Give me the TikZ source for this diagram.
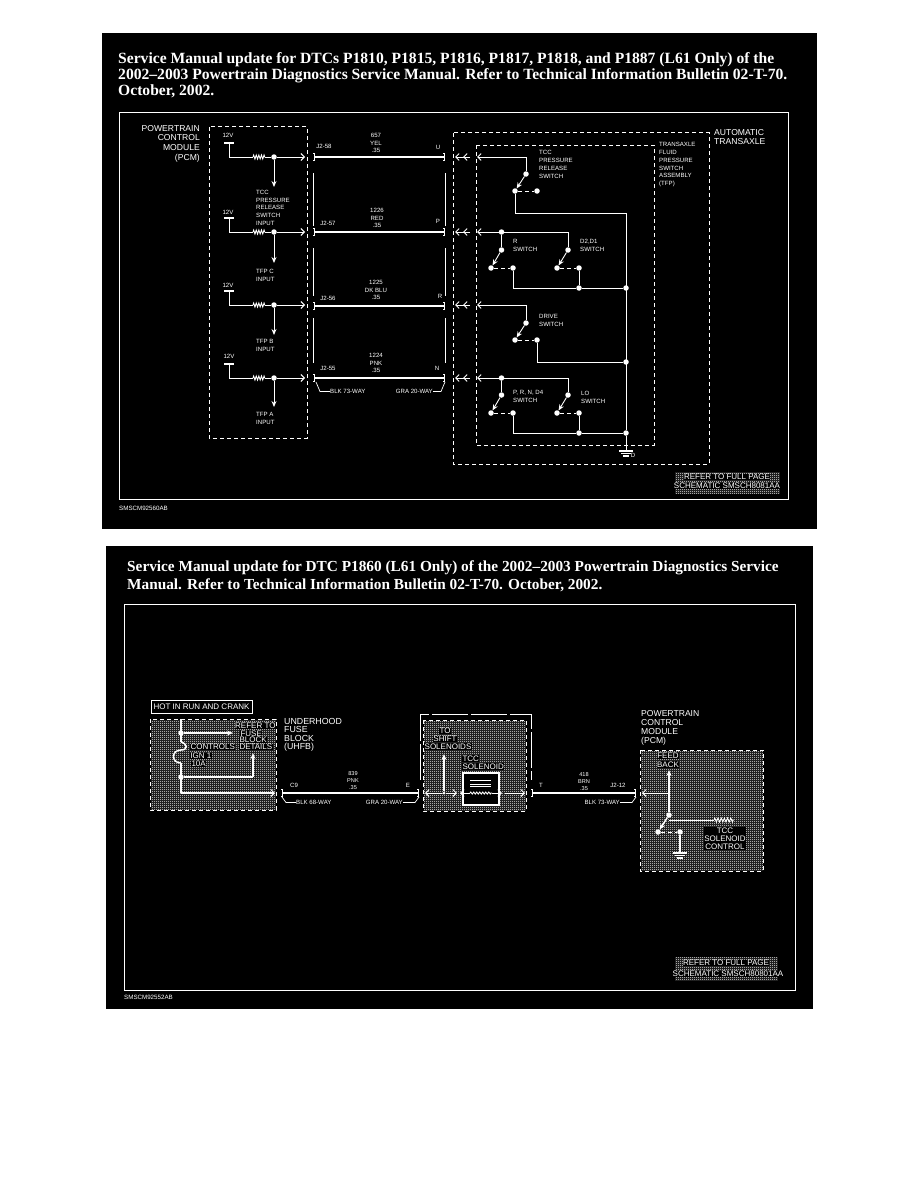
\documentclass[tikz,border=0pt]{standalone}
\usepackage{fontspec}
\setmainfont{Liberation Serif}
\setsansfont{Liberation Sans}
\usepackage{tikz}
\usetikzlibrary{arrows.meta,patterns,decorations.pathmorphing}
\pgfdeclarepatternformonly{screen}{\pgfpointorigin}{\pgfqpoint{2pt}{2pt}}{\pgfqpoint{2pt}{2pt}}{
  \pgfpathrectangle{\pgfpointorigin}{\pgfqpoint{0.95pt}{0.95pt}}
  \pgfpathrectangle{\pgfqpoint{1pt}{1pt}}{\pgfqpoint{0.95pt}{0.95pt}}
  \pgfusepath{fill}}
\tikzset{panel/.style={fill=black,draw=none},
	frame/.style={draw=white,line width=1pt},
	title/.style={text=white,anchor=north west,align=left,inner sep=0pt,
		font=\fontsize{15.6}{16.2}\selectfont\bfseries},
	sm/.style={text=white,inner sep=0pt,align=left,font=\sffamily\fontsize{6.1}{7.7}\selectfont},
	big/.style={text=white,inner sep=0pt,align=left,font=\sffamily\fontsize{8.6}{9.6}\selectfont},
	blk/.style={big,fill=black,inner sep=0.3pt,font=\sffamily\fontsize{8}{8}\selectfont},
	dashbox/.style={draw=white,line width=1pt,dash pattern=on 4pt off 3pt},
	hatch/.style={pattern=screen,pattern color=white},
	wire/.style={draw=white,line width=0.9pt},
	hwire/.style={draw=white,line width=1.5pt},
	fat/.style={draw=white,line width=2.8pt,{Tee Barb[width=8pt,length=2pt,line width=1pt]}-{Tee Barb[width=8pt,length=2pt,line width=1pt]}},
	barb/.style={-{Straight Barb[length=3.5pt,width=7pt,line width=0.9pt]}},
	stlth/.style={-{Stealth[length=6pt,width=5pt]}},
	res/.style={wire,decorate,decoration={zigzag,segment length=2.6pt,amplitude=2pt}},
	jn/.style={circle,fill=white,draw=none,inner sep=0pt,minimum size=5.5pt},
	bar/.style={rectangle,fill=white,draw=none,inner sep=0pt,minimum width=10pt,minimum height=1.8pt},
	swd/.style={wire,dash pattern=on 4pt off 3pt},
	lead/.style={wire,line width=0.7pt}}
\begin{document}
\begin{tikzpicture}[x=1pt,y=-1pt]
\useasboundingbox (0,0) rectangle (918,1188);
\fill [panel] (102,33) rectangle (817,529);
\fill [panel] (106,546) rectangle (813,1009);
\draw [frame] (119,113) rectangle (788,499);
\draw [frame] (124,604) rectangle (795,990);
\node [title] (t1) at (118,52) {Service Manual update for DTCs P1810, P1815, P1816, P1817, P1818, and P1887 (L61 Only) of the\\2002--2003 Powertrain Diagnostics Service Manual. Refer to Technical Information Bulletin 02-T-70.\\October, 2002.};
\node [title,font=\fontsize{15.3}{17.6}\selectfont\bfseries] (t2) at (127,561) {Service Manual update for DTC P1860 (L61 Only) of the 2002--2003 Powertrain Diagnostics Service\\Manual. Refer to Technical Information Bulletin 02-T-70. October, 2002.};
\node [sm,anchor=west,font=\sffamily\fontsize{6.2}{7}\selectfont] (n1) at (119,508) {SMSCM92560AB};
\node [sm,anchor=west,font=\sffamily\fontsize{6.2}{7}\selectfont] (n2) at (124,997) {SMSCM92552AB};

\draw [dashbox] (209,127) rectangle (307,438);
\draw [dashbox] (453,133) rectangle (709,464);
\draw [dashbox] (476,145) rectangle (654,445);
\node [big,anchor=north east,align=right] (pcm) at (200,125) {POWERTRAIN\\CONTROL\\MODULE\\(PCM)};
\node [big,anchor=north west] (atx) at (714,129) {AUTOMATIC\\TRANSAXLE};
\node [sm,anchor=north west] (tfp) at (659,142.5) {TRANSAXLE\\FLUID\\PRESSURE\\SWITCH\\ASSEMBLY\\(TFP)};

\node [sm] (v1) at (228,135) {12V};
\node [bar] (p1) at (229,143) {};
\coordinate (ra1) at (253,157);
\coordinate (rb1) at (265,157);
\node [jn] (j1) at (274,157) {};
\coordinate (c1) at (305,157);
\coordinate (d1) at (274,187);
\draw [wire] (p1.center) |- (ra1);
\draw [res] (ra1) -- (rb1);
\draw [wire] (rb1) -- (j1);
\draw [wire,barb] (j1) -- (c1);
\draw [wire,stlth] (j1) -- (d1);
\node [sm,anchor=north west] (i1) at (256,190) {TCC\\PRESSURE\\RELEASE\\SWITCH\\INPUT};

\node [sm] (v2) at (228,212) {12V};
\node [bar] (p2) at (229,218) {};
\coordinate (ra2) at (253,232);
\coordinate (rb2) at (265,232);
\node [jn] (j2) at (274,232) {};
\coordinate (c2) at (305,232);
\coordinate (d2) at (274,263);
\draw [wire] (p2.center) |- (ra2);
\draw [res] (ra2) -- (rb2);
\draw [wire] (rb2) -- (j2);
\draw [wire,barb] (j2) -- (c2);
\draw [wire,stlth] (j2) -- (d2);
\node [sm,anchor=north west] (i2) at (256,269) {TFP C\\INPUT};

\node [sm] (v3) at (228,285) {12V};
\node [bar] (p3) at (229,291) {};
\coordinate (ra3) at (253,305);
\coordinate (rb3) at (265,305);
\node [jn] (j3) at (274,305) {};
\coordinate (c3) at (305,305);
\coordinate (d3) at (274,335);
\draw [wire] (p3.center) |- (ra3);
\draw [res] (ra3) -- (rb3);
\draw [wire] (rb3) -- (j3);
\draw [wire,barb] (j3) -- (c3);
\draw [wire,stlth] (j3) -- (d3);
\node [sm,anchor=north west] (i3) at (256,339) {TFP B\\INPUT};

\node [sm] (v4) at (229,356) {12V};
\node [bar] (p4) at (229,364) {};
\coordinate (ra4) at (253,378);
\coordinate (rb4) at (265,378);
\node [jn] (j4) at (274,378) {};
\coordinate (c4) at (305,378);
\coordinate (d4) at (274,407);
\draw [wire] (p4.center) |- (ra4);
\draw [res] (ra4) -- (rb4);
\draw [wire] (rb4) -- (j4);
\draw [wire,barb] (j4) -- (c4);
\draw [wire,stlth] (j4) -- (d4);
\node [sm,anchor=north west] (i4) at (256,412) {TFP A\\INPUT};

\coordinate (l1) at (313,157);
\coordinate (r1) at (445,157);
\coordinate (l2) at (313,232);
\coordinate (r2) at (445,232);
\coordinate (l3) at (313,306);
\coordinate (r3) at (445,306);
\coordinate (l4) at (313,378);
\coordinate (r4) at (445,378);
\draw [fat] (l1) -- (r1);
\draw [fat] (l2) -- (r2);
\draw [fat] (l3) -- (r3);
\draw [fat] (l4) -- (r4);
\draw [wire] (313,173) -- (313,226);
\draw [wire] (313,248) -- (313,296);
\draw [wire] (313,318) -- (313,363);
\draw [wire] (445,173) -- (445,226);
\draw [wire] (445,248) -- (445,296);
\draw [wire] (445,318) -- (445,363);
\node [sm,align=center] (w1) at (376,143) {657\\YEL\\.35};
\node [sm,align=center] (w2) at (377,218) {1226\\RED\\.35};
\node [sm,align=center] (w3) at (376,290) {1225\\DK BLU\\.35};
\node [sm,align=center] (w4) at (376,363) {1224\\PNK\\.35};
\node [sm] (e1) at (324,146) {J2-58};
\node [sm] (e2) at (328,223) {J2-57};
\node [sm] (e3) at (328,298) {J2-56};
\node [sm] (e4) at (328,368) {J2-55};
\node [sm] (f1) at (438,147) {U};
\node [sm] (f2) at (438,221) {P};
\node [sm] (f3) at (440,296) {R};
\node [sm] (f4) at (437,368) {N};
\node [sm,anchor=west] (k1) at (330,391.5) {BLK 73-WAY};
\node [sm,anchor=east] (k2) at (433,391.5) {GRA 20-WAY};
\draw [lead] (k1.west) -- (320,391.5) -- (316,382);
\draw [lead] (k2.east) -- (441,391.5) -- (445,382);

\coordinate (a1) at (455,157);
\coordinate (a2) at (463,157);
\coordinate (a3) at (455,232);
\coordinate (a4) at (463,232);
\coordinate (a5) at (455,305);
\coordinate (a6) at (463,305);
\coordinate (a7) at (455,378);
\coordinate (a8) at (463,378);
\coordinate (b1) at (470,157);
\coordinate (b2) at (470,232);
\coordinate (b3) at (470,305);
\coordinate (b4) at (470,378);
\draw [wire,barb] (b1) -- (a1);
\draw [wire,barb] (b2) -- (a3);
\draw [wire,barb] (b3) -- (a5);
\draw [wire,barb] (b4) -- (a7);
\draw [wire,barb] (b1) -- (a2);
\draw [wire,barb] (b2) -- (a4);
\draw [wire,barb] (b3) -- (a6);
\draw [wire,barb] (b4) -- (a8);

\coordinate (x1) at (477,157);
\coordinate (x2) at (477,232);
\coordinate (x3) at (477,305);
\coordinate (x4) at (477,378);
\coordinate (y1) at (526,157);
\coordinate (y3) at (526,305);
\node [jn] (q1) at (526,174) {};
\node [jn] (q2) at (515,191) {};
\node [jn] (q3) at (537,191) {};
\node [jn] (h1) at (501.5,232) {};
\coordinate (h2) at (568,232);
\node [jn] (m1) at (501.5,250) {};
\node [jn] (m2) at (491,268) {};
\node [jn] (m3) at (513,268) {};
\node [jn] (m4) at (568,250) {};
\node [jn] (m5) at (557,268) {};
\node [jn] (m6) at (579,268) {};
\node [jn] (m7) at (579,288) {};
\node [jn] (m8) at (626,288) {};
\node [jn] (o1) at (526,323) {};
\node [jn] (o2) at (515,340) {};
\node [jn] (o3) at (537,340) {};
\node [jn] (o4) at (626,362) {};
\node [jn] (h3) at (501.5,378) {};
\coordinate (h4) at (568,378);
\node [jn] (u1) at (501.5,395) {};
\node [jn] (u2) at (491,413) {};
\node [jn] (u3) at (513,413) {};
\node [jn] (u4) at (568,395) {};
\node [jn] (u5) at (557,413) {};
\node [jn] (u6) at (579,413) {};
\node [jn] (u7) at (579,433) {};
\node [jn] (u8) at (626,433) {};
\coordinate (z1) at (626,213);

\draw [wire,barb] (y1) -- (x1);
\draw [wire,barb] (y3) -- (x3);
\draw [wire,barb] (h2) -- (x2);
\draw [wire,barb] (h4) -- (x4);
\draw [wire] (y1) -- (q1);
\draw [wire,stlth] (q1) -- (q2);
\draw [swd] (q2) -- (q3);
\draw [wire] (q2) |- (z1);
\draw [wire] (z1) -- (u8);
\draw [wire] (h1) -- (m1);
\draw [wire,stlth] (m1) -- (m2);
\draw [swd] (m2) -- (m3);
\draw [wire] (m3) |- (m7);
\draw [wire] (m7) -- (m8);
\draw [wire] (h2) -- (m4);
\draw [wire,stlth] (m4) -- (m5);
\draw [swd] (m5) -- (m6);
\draw [wire] (m6) -- (m7);
\draw [wire] (y3) -- (o1);
\draw [wire,stlth] (o1) -- (o2);
\draw [swd] (o2) -- (o3);
\draw [wire] (o3) |- (o4);
\draw [wire] (h3) -- (u1);
\draw [wire,stlth] (u1) -- (u2);
\draw [swd] (u2) -- (u3);
\draw [wire] (u3) |- (u7);
\draw [wire] (u7) -- (u8);
\draw [wire] (h4) -- (u4);
\draw [wire,stlth] (u4) -- (u5);
\draw [swd] (u5) -- (u6);
\draw [wire] (u6) -- (u7);
\node [bar,minimum width=14pt] (g1) at (626,451) {};
\node [bar,minimum width=10pt] (g2) at (626,453.5) {};
\node [bar,minimum width=6pt] (g3) at (626,456) {};
\draw [wire] (u8) -- (g1);
\node [sm] (g4) at (633,455) {D};
\node [sm,anchor=north west] (s1) at (539,150.5) {TCC\\PRESSURE\\RELEASE\\SWITCH};
\node [sm,anchor=north west] (s2) at (513,239) {R\\SWITCH};
\node [sm,anchor=north west] (s3) at (580,239) {D2,D1\\SWITCH};
\node [sm,anchor=north west] (s4) at (539,314) {DRIVE\\SWITCH};
\node [sm,anchor=north west] (s5) at (513,390) {P, R, N, D4\\SWITCH};
\node [sm,anchor=north west] (s6) at (581,391) {LO\\SWITCH};

\draw [hatch] (674,471) rectangle (780,494);
\node [blk] (ra) at (727,477) {REFER TO FULL PAGE};
\node [blk] (rb) at (727,486) {SCHEMATIC SMSCH8081AA};

\node [draw=white,line width=1pt,big,font=\sffamily\fontsize{8}{8}\selectfont,minimum width=101pt,minimum height=13pt,inner sep=0pt] (hot) at (201.5,706.5) {HOT IN RUN AND CRANK};
\draw [hatch] (150,719) rectangle (276,810);
\draw [dashbox] (150,719) rectangle (276,810);
\node [big,anchor=north west,font=\sffamily\fontsize{8.8}{8.4}\selectfont] (uh) at (284,718) {UNDERHOOD\\FUSE\\BLOCK\\(UHFB)};
\node [jn] (ua) at (181,733) {};
\node [jn] (ub) at (181,777) {};
\coordinate (uc) at (233,733);
\coordinate (ud) at (253,777);
\coordinate (ue) at (253,753);
\coordinate (uf) at (181,793);
\coordinate (ug) at (275,793);
\coordinate (uh1) at (181,719);
\coordinate (fa) at (181,742);
\coordinate (fb) at (181,750);
\coordinate (fc) at (181,763);
\draw [hwire] (uh1) -- (fa);
\draw [hwire] (fa) .. controls (188,744) and (188,750) .. (fb);
\draw [hwire] (fb) .. controls (171,750) and (171,763) .. (fc);
\draw [hwire] (fc) -- (uf);
\draw [hwire,stlth] (ua) -- (uc);
\draw [hwire] (ub) -| (ud);
\draw [hwire,stlth] (ud) -- (ue);
\draw [hwire,barb] (uf) -- (ug);
\node [blk,anchor=east] (u10) at (276,726) {REFER TO};
\node [blk,anchor=west] (u11) at (240,733.5) {FUSE};
\node [blk,anchor=west] (u12) at (239,740) {BLOCK};
\node [blk,anchor=west] (u13) at (239,747) {DETAILS};
\node [blk,anchor=west] (u14) at (190,747) {CONTROLS};
\node [blk,anchor=west] (u15) at (190,756) {IGN 1};
\node [blk,anchor=west] (u16) at (191,764) {10A};

\coordinate (l5) at (281,793);
\coordinate (r5) at (419,793);
\draw [fat] (l5) -- (r5);
\node [sm,align=center,font=\sffamily\fontsize{5.6}{6.6}\selectfont] (w5) at (353,780.5) {839\\PNK\\.35};
\node [sm] (e5) at (294,785) {C9};
\node [sm] (f5) at (408,785) {E};
\node [sm,anchor=west] (k3) at (296,802.5) {BLK 68-WAY};
\node [sm,anchor=east] (k4) at (403,802.5) {GRA 20-WAY};
\draw [lead] (k3.west) -- (286,802.5) -- (282,797);
\draw [lead] (k4.east) -- (415,802.5) -- (419,797);

\draw [frame,dash pattern=on 36pt off 3pt] (420,780) -- (420,714) -- (531,714) -- (531,780);
\draw [hatch] (423,720) rectangle (526,811);
\draw [dashbox] (423,720) rectangle (526,811);
\node [blk] (to1) at (445,731) {TO};
\node [blk] (to2) at (445,739) {SHIFT};
\node [blk] (to3) at (448,746.5) {SOLENOIDS};
\node [blk,anchor=west] (tc1) at (462,758.5) {TCC};
\node [blk,anchor=west] (tc2) at (462,766.5) {SOLENOID};
\node [jn,minimum size=3pt] (sj) at (444,793) {};
\coordinate (sa) at (444,754);
\coordinate (sb) at (425,793);
\coordinate (sc) at (457,793);
\coordinate (sd) at (525,793);
\coordinate (se) at (505,793);
\draw [hwire,stlth] (sj) -- (sa);
\draw [wire,barb] (sj) -- (sb);
\draw [wire,barb] (sj) -- (sc);
\draw [wire,barb] (se) -- (sd);
\node [draw=white,fill=black,line width=1.2pt,minimum width=36pt,minimum height=32pt,inner sep=0pt] (sol) at (481,789) {};
\coordinate (sf) at (460,793);
\coordinate (sg) at (470,793);
\coordinate (sh) at (492,793);
\coordinate (si) at (502,793);
\draw [wire,barb] (sg) -- (sf);
\draw [wire,barb] (sh) -- (si);
\draw [res,decoration={zigzag,segment length=3pt,amplitude=1pt}] (sg) -- (sh);
\coordinate (la) at (470,780);
\coordinate (lb) at (491,780);
\coordinate (lc) at (470,784);
\coordinate (ld) at (491,784);
\coordinate (le) at (470,786.5);
\coordinate (lf) at (491,786.5);
\draw [lead] (la) -- (lb);
\draw [lead] (lc) -- (ld);
\draw [lead] (le) -- (lf);

\coordinate (l6) at (531,793);
\coordinate (r6) at (636,793);
\draw [fat] (l6) -- (r6);
\node [sm,align=center,font=\sffamily\fontsize{5.6}{6.6}\selectfont] (w6) at (584,781.5) {418\\BRN\\.35};
\node [sm] (e6) at (541,785) {T};
\node [sm] (f6) at (618,785) {J2-12};
\node [sm,anchor=east] (k5) at (620,802.5) {BLK 73-WAY};
\draw [lead] (k5.east) -- (632,802.5) -- (636,797);

\node [big,anchor=north west,font=\sffamily\fontsize{8.6}{9}\selectfont] (pc2) at (641,710) {POWERTRAIN\\CONTROL\\MODULE\\(PCM)};
\draw [hatch] (640,750) rectangle (763,871);
\draw [dashbox] (640,750) rectangle (763,871);
\node [blk] (fe1) at (668,756) {FEED};
\node [blk] (fe2) at (668,764.5) {BACK};
\node [blk,align=center] (sc1) at (725,838.5) {TCC\\SOLENOID\\CONTROL};
\coordinate (pa) at (642,793);
\coordinate (pb) at (669,793);
\coordinate (pc) at (669,770);
\node [jn] (pd) at (669,815) {};
\node [jn] (pe) at (658,832) {};
\node [jn] (pf) at (680,832) {};
\node [bar,minimum width=14pt] (pg) at (680,853) {};
\node [bar,minimum width=10pt] (ph) at (680,855.5) {};
\node [bar,minimum width=6pt] (pi) at (680,858) {};
\coordinate (pj) at (669,820);
\coordinate (pk) at (714,820);
\coordinate (pl) at (734,820);
\draw [wire,barb] (pb) -- (pa);
\draw [hwire,stlth] (pb) -- (pc);
\draw [hwire] (pb) -- (pd);
\draw [hwire,stlth] (pd) -- (pe);
\draw [swd] (pe) -- (pf);
\draw [hwire] (pf) -- (pg);
\draw [wire] (pj) -- (pk);
\draw [res,decoration={zigzag,segment length=3.2pt,amplitude=2pt}] (pk) -- (pl);

\draw [hatch] (674,956) rectangle (778,981);
\node [blk] (rc) at (726,963) {REFER TO FULL PAGE};
\node [blk] (rd) at (728,974) {SCHEMATIC SMSCH80801AA};
\end{tikzpicture}
\end{document}
